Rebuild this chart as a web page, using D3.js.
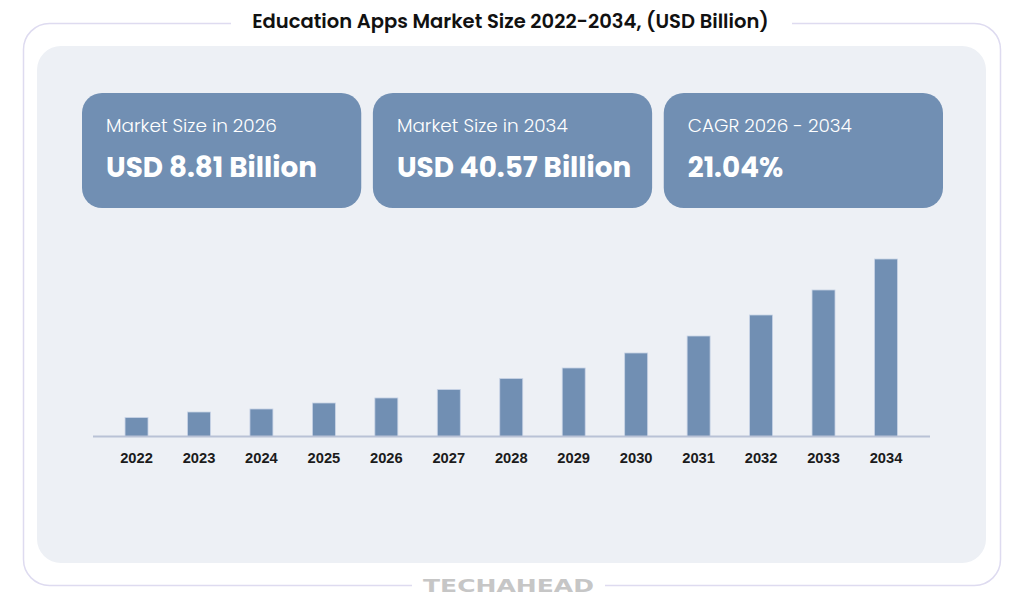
<!DOCTYPE html>
<html>
<head>
<meta charset="utf-8">
<script src="https://cdn.jsdelivr.net/npm/d3@7"></script>
<style>
  html, body { margin: 0; padding: 0; background: #ffffff; }
  svg { display: block; }
</style>
</head>
<body>
<div id="chart"></div>
<script>
// chart data
var years = ["2022","2023","2024","2025","2026","2027","2028","2029","2030","2031","2032","2033","2034"];
var marketSize = [4.34, 5.6, 6.29, 7.66, 8.81, 10.74, 13.26, 15.66, 19.09, 22.97, 27.77, 33.49, 40.57];
var cardLabels = ["Market Size in 2026", "Market Size in 2034", "CAGR 2026 - 2034"];
var cardValues = ["USD 8.81 Billion", "USD 40.57 Billion", "21.04%"];
var titleText = "Education Apps Market Size 2022-2034, (USD Billion)";
var brandText = "TECHAHEAD";

var width = 1024, height = 609;
var font = "Poppins, Inter, 'Noto Sans', sans-serif";
var barColor = "#718fb3";

var svg = d3.select("#chart").append("svg")
    .attr("width", width)
    .attr("height", height);

// scale a text's font size so it spans the given width
function fitWidth(sel, target) {
    var node = sel.node();
    var size = parseFloat(sel.attr("font-size"));
    var w = node.getComputedTextLength();
    if (w > 0) sel.attr("font-size", size * target / w);
    return parseFloat(sel.attr("font-size"));
}

// outer frame
svg.append("rect")
    .attr("x", 23.5).attr("y", 23.5)
    .attr("width", 977).attr("height", 562)
    .attr("rx", 26)
    .attr("fill", "none")
    .attr("stroke", "#dedbf0")
    .attr("stroke-width", 1.5);

// gaps in the frame for title and brand
svg.append("rect").attr("x", 231).attr("y", 15).attr("width", 561).attr("height", 16).attr("fill", "#fff");
svg.append("rect").attr("x", 412).attr("y", 578).attr("width", 193).attr("height", 16).attr("fill", "#fff");

// inner panel
svg.append("rect")
    .attr("x", 37).attr("y", 46)
    .attr("width", 949).attr("height", 517)
    .attr("rx", 24)
    .attr("fill", "#edf0f5");

// title
var title = svg.append("text")
    .attr("x", 510.5).attr("y", 28)
    .attr("text-anchor", "middle")
    .attr("font-family", font)
    .attr("font-weight", 600)
    .attr("font-size", 20)
    .attr("fill", "#111111")
    .text(titleText);
fitWidth(title, 517);

// brand
svg.append("text")
    .attr("x", 508.5).attr("y", 592)
    .attr("text-anchor", "middle")
    .attr("font-family", "'DejaVu Sans', sans-serif")
    .attr("font-weight", 700)
    .attr("font-size", 17)
    .attr("fill", "#c6c6c6")
    .attr("textLength", 171)
    .attr("lengthAdjust", "spacingAndGlyphs")
    .text(brandText);

// summary cards
var cardX = d3.scaleBand().domain(d3.range(cardLabels.length)).range([82, 943]).paddingInner(0.04);

var cards = svg.selectAll(".card")
    .data(cardLabels)
    .enter().append("g")
    .attr("class", "card")
    .attr("transform", function (d, i) { return "translate(" + cardX(i) + ",93)"; });

cards.append("rect")
    .attr("width", cardX.bandwidth())
    .attr("height", 115)
    .attr("rx", 20)
    .attr("fill", barColor);

var labels = cards.append("text")
    .attr("x", 24).attr("y", 132 - 93)
    .attr("font-family", font)
    .attr("font-weight", 300)
    .attr("font-size", 18)
    .attr("fill", "#ffffff")
    .text(function (d) { return d; });

var values = cards.append("text")
    .attr("x", 24).attr("y", 177 - 93)
    .attr("font-family", font)
    .attr("font-weight", 700)
    .attr("font-size", 28)
    .attr("fill", "#ffffff")
    .text(function (d, i) { return cardValues[i]; });

var labelSize = fitWidth(d3.select(labels.nodes()[0]), 171);
labels.attr("font-size", labelSize);
var valueSize = fitWidth(d3.select(values.nodes()[0]), 211);
values.attr("font-size", valueSize);

// bar chart
var baseline = 436.5;
var xScale = d3.scaleBand()
    .domain(years)
    .range([105.3, 917.2])
    .paddingInner(0.632)
    .paddingOuter(0.316);

var yScale = d3.scaleLinear()
    .domain([0, d3.max(marketSize)])
    .range([baseline, 259]);

svg.append("g").selectAll("rect")
    .data(marketSize)
    .enter().append("rect")
    .attr("x", function (d, i) { return xScale(years[i]); })
    .attr("y", function (d) { return yScale(d); })
    .attr("width", xScale.bandwidth())
    .attr("height", function (d) { return baseline - yScale(d); })
    .attr("fill", barColor)
    .attr("stroke", "#c9d4e6")
    .attr("stroke-width", 0.8);

var xAxis = svg.append("g")
    .attr("transform", "translate(0," + baseline + ")")
    .call(d3.axisBottom(xScale).tickSize(0).tickPadding(20));

xAxis.select(".domain").remove();
xAxis.append("line")
    .attr("x1", 93).attr("x2", 930)
    .attr("stroke", "#b9c2d6")
    .attr("stroke-width", 2);

xAxis.selectAll(".tick text")
    .attr("font-family", "'Liberation Sans', Arial, sans-serif")
    .attr("font-weight", 700)
    .attr("font-size", 14.7)
    .attr("fill", "#1b1b1b")
    .attr("dy", "0.35em")
    .attr("y", 21.5);
</script>
</body>
</html>
